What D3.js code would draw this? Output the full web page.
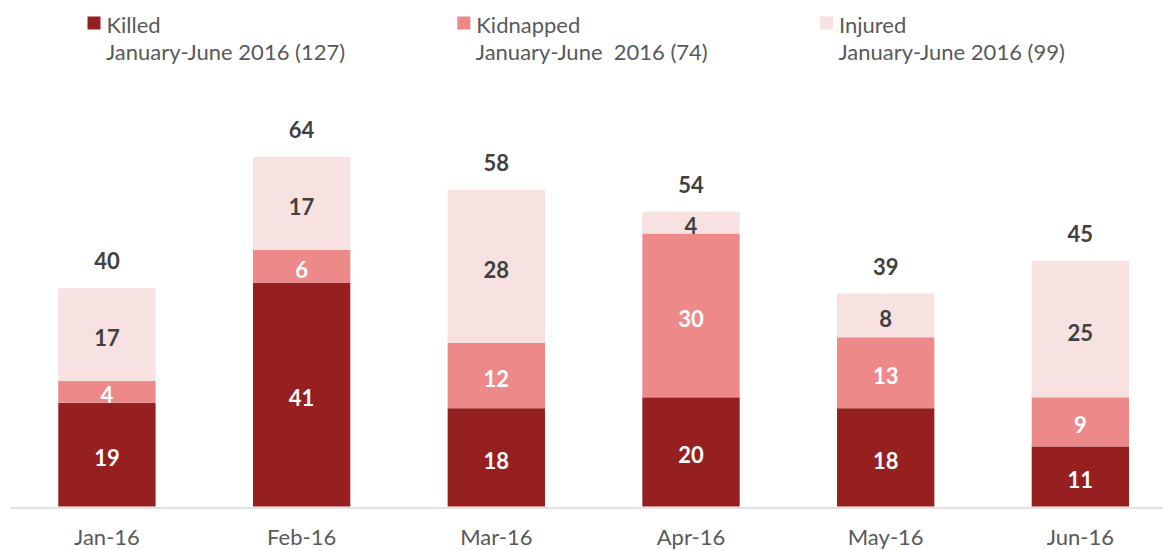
<!DOCTYPE html>
<html><head><meta charset="utf-8">
<script src="https://cdn.jsdelivr.net/npm/d3@7"></script>
<style>body{margin:0;background:#fff}svg{display:block;font-family:Lato,"Open Sans",sans-serif}</style>
</head><body><svg id="c" width="1163" height="550"></svg>
<script>
const months = ["Jan-16","Feb-16","Mar-16","Apr-16","May-16","Jun-16"];
const killed = [19,41,18,20,18,11];
const kidnapped = [4,6,12,30,13,9];
const injured = [17,17,28,4,8,25];
const seriesNames = ["Killed","Kidnapped","Injured"];
const legendSub = ["January-June 2016 (127)","January-June  2016 (74)","January-June 2016 (99)"];
const colors = ["#95201f","#ee898a","#f7e1e1"];
const labelColors = ["#ffffff","#ffffff","#404040"];

const rows = months.map((m,i)=>({month:m, Killed:killed[i], Kidnapped:kidnapped[i], Injured:injured[i]}));
const stack = d3.stack().keys(seriesNames)(rows);

const svg = d3.select("#c");
const x = d3.scaleBand().domain(months).range([9.6,1177.7]).paddingInner(0.5).paddingOuter(0.25);
const y = d3.scaleLinear().domain([0,70]).range([506.5, 506.5-70*5.46]);

// axis
const ax = svg.append("g").attr("transform","translate(0,507.5)")
  .call(d3.axisBottom(x).tickSize(0).tickPadding(0));
ax.select(".domain").attr("stroke","#d9d9d9").attr("stroke-width",1.5);
ax.selectAll("text").attr("dy",null).attr("y",37.5).attr("fill","#595959")
  .style("font-size","22px").style("font-family","Lato");

// bars
const g = svg.append("g");
stack.forEach((s,si)=>{
  const layer = g.append("g");
  layer.selectAll("rect").data(s).join("rect")
    .attr("x",d=>x(d.data.month)).attr("width",x.bandwidth())
    .attr("y",d=>y(d[1])).attr("height",d=>y(d[0])-y(d[1]))
    .attr("fill",colors[si]);
  layer.selectAll("text").data(s).join("text")
    .attr("x",d=>x(d.data.month)+x.bandwidth()/2)
    .attr("y",d=>(y(d[0])+y(d[1]))/2+11.5)
    .attr("text-anchor","middle").attr("fill",labelColors[si])
    .style("font-size","22px").style("font-weight","bold")
    .text(d=>d[1]-d[0]);
});
// totals
g.selectAll("text.total").data(rows).join("text").attr("class","total")
  .attr("x",d=>x(d.month)+x.bandwidth()/2)
  .attr("y",d=>y(d.Killed+d.Kidnapped+d.Injured)-19)
  .attr("text-anchor","middle").attr("fill","#404040")
  .style("font-size","22px").style("font-weight","bold")
  .text(d=>d.Killed+d.Kidnapped+d.Injured);

// legend
const legX = [87.5,457.3,820];
const lg = svg.append("g");
seriesNames.forEach((n,i)=>{
  const e = lg.append("g").attr("transform",`translate(${legX[i]},0)`);
  e.append("rect").attr("x",0).attr("y",16.5).attr("width",13).attr("height",13).attr("fill",colors[i]);
  e.append("text").attr("x",19).attr("y",32.5).attr("fill","#595959").style("font-size","22px").text(n);
  e.append("text").attr("x",18.5).attr("y",59.5).attr("fill","#595959").style("font-size","22px")
    .attr("xml:space","preserve").style("white-space","pre").text(legendSub[i]);
});
</script></body></html>
